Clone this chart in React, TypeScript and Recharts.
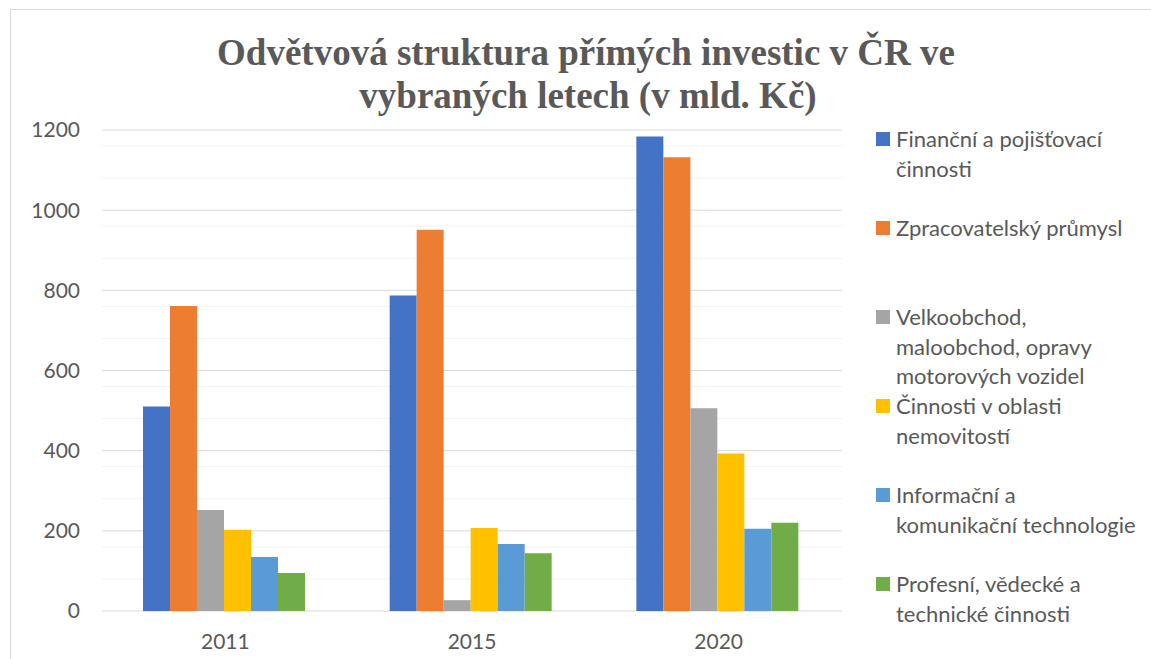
import { Bar, BarChart, CartesianGrid, XAxis, YAxis } from "recharts";

const years = ["2011", "2015", "2020"];

const financni = [510, 787, 1184];
const zpracovatelsky = [761, 951, 1132];
const velkoobchod = [252, 27, 506];
const nemovitosti = [203, 207, 393];
const informacni = [135, 167, 205];
const profesni = [95, 144, 220];

const seriesNames = [
  "Finanční a pojišťovací činnosti",
  "Zpracovatelský průmysl",
  "Velkoobchod, maloobchod, opravy motorových vozidel",
  "Činnosti v oblasti nemovitostí",
  "Informační a komunikační technologie",
  "Profesní, vědecké a technické činnosti",
];
const legendLines = [
  ["Finanční a pojišťovací", "činnosti"],
  ["Zpracovatelský průmysl"],
  ["Velkoobchod,", "maloobchod, opravy", "motorových vozidel"],
  ["Činnosti v oblasti", "nemovitostí"],
  ["Informační a", "komunikační technologie"],
  ["Profesní, vědecké a", "technické činnosti"],
];
const colors = ["#4472C4", "#ED7D31", "#A5A5A5", "#FFC000", "#5B9BD5", "#70AD47"];

const yTicks = [0, 200, 400, 600, 800, 1000, 1200];
const minorTicks = [
  40, 80, 120, 160, 240, 280, 320, 360, 440, 480, 520, 560, 640, 680, 720, 760,
  840, 880, 920, 960, 1040, 1080, 1120, 1160,
];

const seriesValues = [financni, zpracovatelsky, velkoobchod, nemovitosti, informacni, profesni];
const data = years.map((year, i) => {
  const row: Record<string, string | number> = { year };
  seriesValues.forEach((values, s) => {
    row[`s${s}`] = values[i];
  });
  return row;
});

const textColor = "#595959";
const sansFont = "Lato, 'Open Sans', sans-serif";

// legend is drawn outside recharts so it doesn't eat into the plot width
function ChartLegend() {
  return (
    <div
      style={{
        position: "absolute",
        left: 870,
        top: 124,
        width: 281,
        height: 520,
        fontFamily: sansFont,
      }}
    >
      {legendLines.map((lines, i) => (
        <div key={seriesNames[i]} style={{ position: "absolute", left: 0, top: i * 89 }}>
          <div
            style={{
              position: "absolute",
              left: 6,
              top: 8,
              width: 14,
              height: 14,
              background: colors[i],
            }}
          />
          <div
            style={{
              position: "absolute",
              left: 26,
              top: 0,
              fontSize: 22,
              lineHeight: "29.5px",
              color: textColor,
              whiteSpace: "nowrap",
            }}
          >
            {lines.map((line) => (
              <div key={line}>{line}</div>
            ))}
          </div>
        </div>
      ))}
    </div>
  );
}

export default function App() {
  return (
    <div
      style={{
        position: "absolute",
        left: 0,
        top: 0,
        width: 1151,
        height: 659,
        overflow: "hidden",
        background: "#fff",
      }}
    >
      <div
        style={{
          position: "absolute",
          left: 10,
          top: 9,
          width: 1141,
          height: 650,
          borderTop: "1px solid #d9d9d9",
          borderLeft: "1px solid #d9d9d9",
        }}
      />
      <svg width={1151} height={120} style={{ position: "absolute", left: 0, top: 0 }}>
        <text
          x={586}
          y={65}
          textAnchor="middle"
          fontFamily="'Liberation Serif', serif"
          fontWeight="bold"
          fontSize={37}
          fill={textColor}
        >
          Odvětvová struktura přímých investic v ČR ve
        </text>
        <text
          x={588}
          y={108}
          textAnchor="middle"
          fontFamily="'Liberation Serif', serif"
          fontWeight="bold"
          fontSize={37}
          fill={textColor}
        >
          vybraných letech (v mld. Kč)
        </text>
      </svg>
      <div style={{ position: "absolute", left: 0, top: 0 }}>
        <BarChart
          width={1151}
          height={659}
          data={data}
          margin={{ top: 130, right: 309, bottom: 18, left: 0 }}
          barCategoryGap={41}
          barGap={0}
        >
          <CartesianGrid vertical={false} horizontalValues={minorTicks} stroke="#f2f2f2" />
          <CartesianGrid vertical={false} stroke="#d9d9d9" />
          <XAxis
            dataKey="year"
            height={30}
            tickLine={false}
            axisLine={false}
            tickSize={0}
            tickMargin={23}
            tick={{ fill: textColor, fontSize: 21, fontFamily: sansFont }}
          />
          <YAxis
            width={102}
            domain={[0, 1200]}
            ticks={yTicks}
            tickLine={false}
            axisLine={false}
            tickSize={0}
            tickMargin={22}
            tick={{ fill: textColor, fontSize: 21, fontFamily: sansFont }}
          />
          {seriesNames.map((name, i) => (
            <Bar
              key={name}
              dataKey={`s${i}`}
              name={name}
              fill={colors[i]}
              isAnimationActive={false}
            />
          ))}
        </BarChart>
      </div>
      <ChartLegend />
    </div>
  );
}
